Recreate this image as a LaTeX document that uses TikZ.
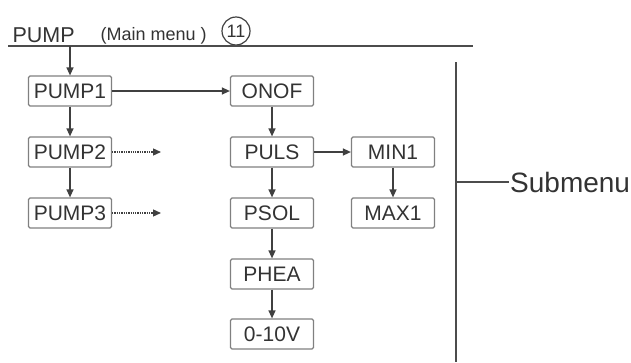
\documentclass[tikz,border=0pt]{standalone}
\usepackage{fontspec}
\setmainfont{Liberation Sans}
\usetikzlibrary{arrows.meta,positioning}

\begin{document}
\begin{tikzpicture}[x=1pt,y=-1pt,
    menubox/.style={draw=black!50,line width=1.2pt,rounded corners=1.5pt,
      minimum width=83pt,minimum height=30pt,inner sep=0pt,text=black!80,
      font=\fontsize{21}{21}\selectfont},
    link/.style={draw=black!75,line width=1.3pt,-{Triangle[length=8pt,width=7pt]}},
    rule/.style={draw=black!70,line width=1.8pt}]
  \useasboundingbox (0,0) rectangle (631,362);
  % main menu heading
  \node[anchor=base west,text=black!80,font=\fontsize{21.5}{21.5}\selectfont] (title) at (9,42) {PUMP};
  \node[anchor=base west,text=black!80,font=\fontsize{18}{18}\selectfont] (mainmenu) at (97,40) {(Main menu )};
  \node[circle,draw=black!75,line width=1.2pt,minimum size=28pt,inner sep=0pt,text=black!80,
    font=\fontsize{18}{18}\selectfont] (num) at (236,31) {11};
  \coordinate (lineL) at (8,46);
  \coordinate (lineR) at (473,46);
  \draw[rule] (lineL) -- (lineR);
  % menu boxes
  \node[menubox] (pumpA) at (70,91) {PUMP1};
  \node[menubox] (pumpB) at (70,152) {PUMP2};
  \node[menubox] (pumpC) at (70,213) {PUMP3};
  \node[menubox] (onof) at (272,91) {ONOF};
  \node[menubox] (puls) at (272,152) {PULS};
  \node[menubox] (psol) at (272,213) {PSOL};
  \node[menubox] (phea) at (272,274) {PHEA};
  \node[menubox] (volt) at (272,334) {0-10V};
  \node[menubox] (minA) at (393,152) {MIN1};
  \node[menubox] (maxA) at (393,213) {MAX1};
  % connectors
  \coordinate (drop) at (70,46);
  \coordinate (endB) at (161,152);
  \coordinate (endC) at (161,213);
  \draw[link] (drop) -- (pumpA);
  \draw[link] (pumpA) -- (pumpB);
  \draw[link] (pumpB) -- (pumpC);
  \draw[link] (pumpA) -- (onof);
  \draw[link,densely dotted] (pumpB) -- (endB);
  \draw[link,densely dotted] (pumpC) -- (endC);
  \draw[link] (onof) -- (puls);
  \draw[link] (puls) -- (psol);
  \draw[link] (psol) -- (phea);
  \draw[link] (phea) -- (volt);
  \draw[link] (puls) -- (minA);
  \draw[link] (minA) -- (maxA);
  % submenu bracket
  \coordinate (barT) at (456,62);
  \coordinate (barB) at (456,362);
  \coordinate (barM) at (456,182);
  \draw[rule] (barT) -- (barB);
  \node[anchor=base west,text=black!80,font=\fontsize{28}{28}\selectfont,inner sep=1pt] (sub) at (509,192) {Submenu};
  \draw[rule,line width=1.3pt] (barM) -- (sub.west |- barM);
\end{tikzpicture}
\end{document}
